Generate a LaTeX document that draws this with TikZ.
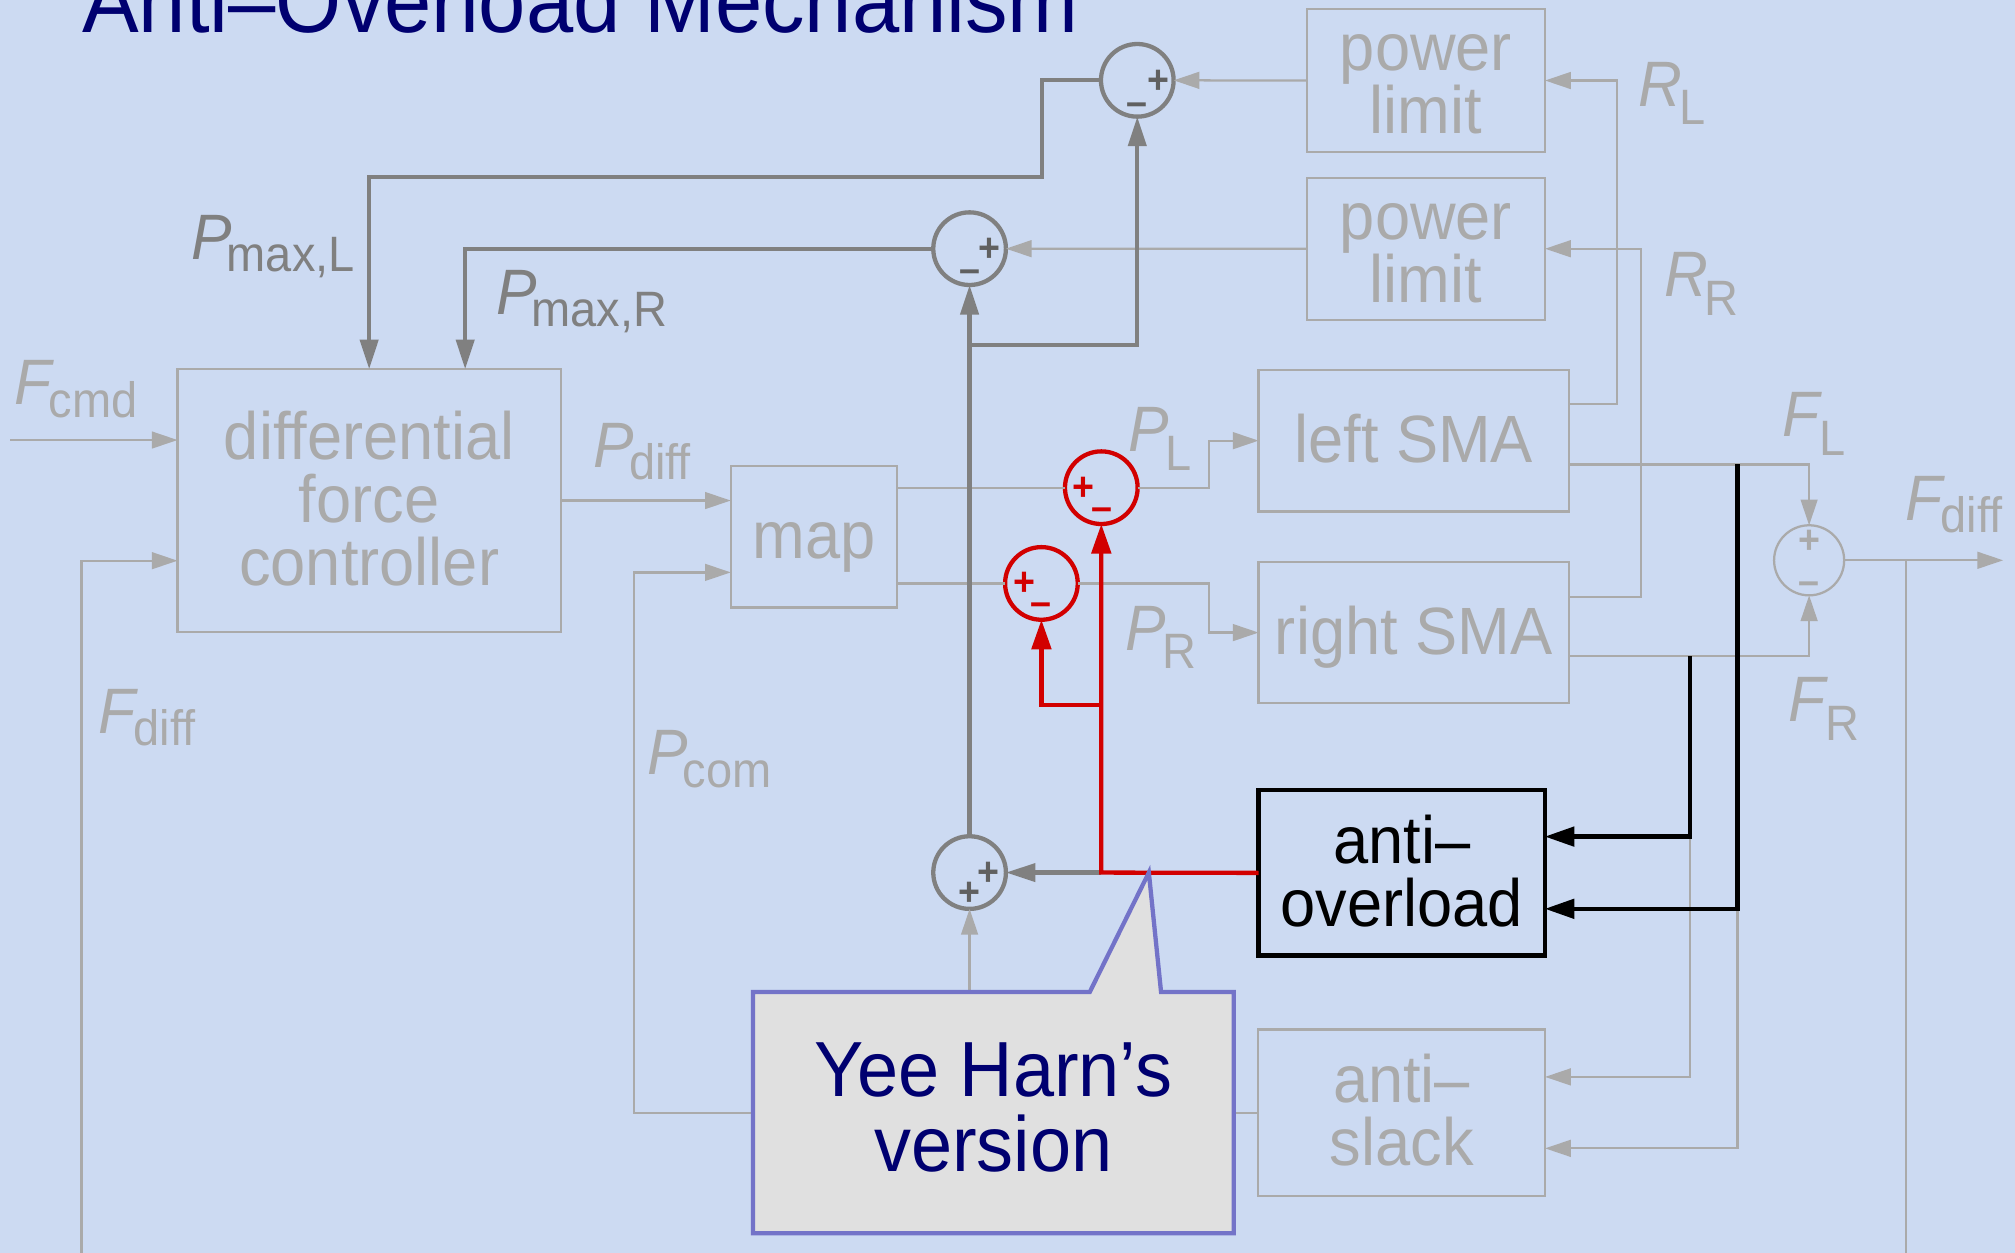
\documentclass[tikz,border=0pt]{standalone}
\usepackage{fontspec}
\setmainfont{Liberation Sans}[FakeStretch=0.945]
\usetikzlibrary{arrows.meta,calc}
\definecolor{bg}{RGB}{204,218,242}
\definecolor{lg}{RGB}{170,170,170}
\definecolor{dg}{RGB}{128,128,128}
\definecolor{sg}{RGB}{96,96,96}
\definecolor{rd}{RGB}{210,0,0}
\definecolor{nv}{RGB}{0,0,112}
\definecolor{cb}{RGB}{115,115,200}
\definecolor{cf}{RGB}{224,224,224}
\newcommand\st{\rule[-0.11cm]{0pt}{0.56cm}}
\newcommand\boxfont{\fontsize{14.8}{13.94}\selectfont\lineskiplimit=-100pt\relax}
\newcommand\calfont{\fontsize{17.3}{16.6}\selectfont\lineskiplimit=-100pt\relax}
\newcommand\labfont{\fontsize{14.2}{14.2}\selectfont}
\newcommand\lsub[2]{\textit{#1}\kern-0.08em\raisebox{-0.19em}{\fontsize{11}{11}\selectfont #2}}
\newcommand\usub[2]{\textit{#1}\kern-0.05em\raisebox{-0.29em}{\fontsize{11}{11}\selectfont #2}}
\begin{document}
\begin{tikzpicture}[x=0.01cm,y=-0.01cm,
  every node/.style={inner sep=0pt,outer sep=0pt},
  tbox/.style={draw=lg,line width=0.5pt,text=lg,font=\boxfont,align=center},
  thn/.style={draw=lg,line width=0.5pt},
  thk/.style={draw=dg,line width=0.95pt},
  redline/.style={draw=rd,line width=0.95pt},
  blkline/.style={draw=black,line width=0.95pt},
  tla/.style={-{Triangle[length=0.2cm,width=0.13cm]}},
  tka/.style={-{Triangle[length=0.23cm,width=0.14cm]}},
  bka/.style={-{Triangle[length=0.23cm,width=0.15cm]}},
  sumd/.style={circle,draw=dg,line width=0.95pt,minimum size=0.565cm},
  sumr/.style={circle,draw=rd,line width=0.95pt,minimum size=0.565cm},
  suml/.style={circle,draw=lg,line width=0.5pt,minimum size=0.545cm},
  sgn/.style={font=\fontsize{8.8}{8.8}\selectfont\bfseries},
  lab/.style={anchor=base west,font=\labfont,text=lg}]
\clip (0,0) rectangle (1568,975);
\fill[bg] (0,0) rectangle (1568,975);
\node[anchor=base west,font=\fontsize{19.9}{19.9}\selectfont,text=nv] (title) at (64,25.4) {Anti–Overload Mechanism};

% boxes
\node[tbox,minimum width=2.98cm,minimum height=2.043cm] (dfc) at (287.25,389.5) {\st differential\\\st force\\\st controller};
\node[tbox,minimum width=1.292cm,minimum height=1.1cm] (map) at (633.3,417.65) {\st map};
\node[tbox,minimum width=1.852cm,minimum height=1.108cm] (pl1) at (1109.65,62.65) {\st power\\\st limit};
\node[tbox,minimum width=1.852cm,minimum height=1.106cm] (pl2) at (1109.65,193.55) {\st power\\\st limit};
\node[tbox,minimum width=2.413cm,minimum height=1.103cm] (lsma) at (1100.1,342.9) {\st left SMA};
\node[tbox,minimum width=2.413cm,minimum height=1.098cm] (rsma) at (1100.1,492.25) {\st right SMA};
\node[tbox,draw=black,text=black,line width=0.95pt,minimum width=2.227cm,minimum height=1.285cm] (ao) at (1090.75,679.25) {\st anti–\\\st overload};
\node[tbox,minimum width=2.231cm,minimum height=1.295cm] (as) at (1090.7,865.8) {\st anti–\\\st slack};

% summing junctions
\node[sumd] (s1) at (885,62.5) {};
\node[sumd] (s2) at (754.5,193.5) {};
\node[sumd] (s3) at (754.5,679) {};
\node[sumr] (r1) at (857,379.5) {};
\node[sumr] (r2) at (810.4,454) {};
\node[suml] (fs) at (1407.8,436) {};
\node[sgn,text=sg] (s1p) at (901.4,63.6) {+};
\node[sgn,text=sg] (s1m) at (885,85) {–};
\node[sgn,text=sg] (s2p) at (770.2,194.2) {+};
\node[sgn,text=sg] (s2m) at (754.5,214.6) {–};
\node[sgn,text=sg] (s3p) at (769.5,680) {+};
\node[sgn,text=sg] (s3b) at (754.5,695.6) {+};
\node[sgn,text=rd] (r1p) at (843,380.5) {+};
\node[sgn,text=rd] (r1m) at (857.3,399.8) {–};
\node[sgn,text=rd] (r2p) at (797,454.5) {+};
\node[sgn,text=rd] (r2m) at (810.4,474.4) {–};
\node[sgn,text=lg] (fsp) at (1407.8,422) {+};
\node[sgn,text=lg] (fsm) at (1407.8,457.8) {–};

% labels
\node[lab] (lfcmd) at (11,315) {\lsub{F}{cmd}};
\node[lab,text=dg] (lpml) at (149,202) {\lsub{P}{max,L}};
\node[lab,text=dg] (lpmr) at (386,244.4) {\lsub{P}{max,R}};
\node[lab] (lpdiff) at (462,363.7) {\lsub{P}{diff}};
\node[lab] (lpl) at (878,351.5) {\usub{P}{L}};
\node[lab] (lpr) at (876,505.8) {\usub{P}{R}};
\node[lab] (lrl) at (1275,82.5) {\usub{R}{L}};
\node[lab] (lrr) at (1295,230.9) {\usub{R}{R}};
\node[lab] (lfl) at (1387,339.8) {\usub{F}{L}};
\node[lab] (lfr) at (1392,561.6) {\usub{F}{R}};
\node[lab] (lfd2) at (1483,404.7) {\lsub{F}{diff}};
\node[lab] (lfd1) at (77,570.7) {\lsub{F}{diff}};
\node[lab] (lpcom) at (504,603) {\lsub{P}{com}};

% thin light grey connectors
\coordinate (fin) at (8,342.4);
\draw[thn,tla] (fin) -- (dfc.west |- fin);
\coordinate (fbL) at (63.4,990);
\coordinate (fbLt) at (63.4,436.3);
\draw[thn,tla] (fbL) -- (fbLt) -- (dfc.west |- fbLt);
\draw[thn,tla] (dfc.east) -- (map.west |- dfc.east);
\coordinate (pc1) at (493.5,865.8);
\coordinate (pc2) at (493.5,445.4);
\draw[thn,tla] (as.west) -- (pc1) -- (pc2) -- (map.west |- pc2);
\draw[thn,tla] (s3.south |- as.west) -- (s3.south);
\draw[thn] (map.east |- r1.west) -- (r1.west);
\coordinate (pl) at (940.8,379.5);
\draw[thn,tla] (r1.east) -- (pl) |- (lsma.west);
\draw[thn] (map.east |- r2.west) -- (r2.west);
\coordinate (pr) at (940.8,454);
\draw[thn,tla] (r2.east) -- (pr) |- (rsma.west);
\draw[thn,tla] (pl1.west) -- (s1.east);
\draw[thn,tla] (pl2.west) -- (s2.east);
\coordinate (rl) at (1258.2,314.4);
\draw[thn,tla] (lsma.east |- rl) -- (rl) |- (pl1.east);
\coordinate (rr) at (1276.9,464.3);
\draw[thn,tla] (rsma.east |- rr) -- (rr) |- (pl2.east);
\coordinate (fl) at (1407.8,361.4);
\draw[thn,tla] (lsma.east |- fl) -| (fs.north);
\coordinate (fr) at (1407.8,510.5);
\draw[thn,tla] (rsma.east |- fr) -| (fs.south);
\coordinate (fo) at (1558.8,436);
\draw[thn,tla] (fs.east) -- (fo);
\coordinate (fbR) at (1483,436);
\coordinate (fbRb) at (1483,990);
\draw[thn] (fbR) -- (fbRb);
\coordinate (b1) at (1315,510.5);
\coordinate (b1d) at (1315,651);
\coordinate (b2) at (1352,361.4);
\coordinate (b2d) at (1352,707.2);
\coordinate (a1) at (1315,838);
\coordinate (a2) at (1352,893.6);
\draw[thn,tla] (b1d) -- (a1) -- (as.east |- a1);
\draw[thn,tla] (b2d) -- (a2) -- (as.east |- a2);

% thick dark grey connectors
\coordinate (k1) at (810.6,137.5);
\draw[thk,tka] (s1.west) -| (k1) -| (dfc.north);
\coordinate (k2) at (362,193.5);
\draw[thk,tka] (s2.west) -- (k2) -- (k2 |- dfc.north);
\draw[thk,tka] (s3.north) -- (s2.south);
\coordinate (k3) at (754.5,268.5);
\draw[thk,tka] (k3) -| (s1.south);
\coordinate (j) at (857,679);
\draw[thk,tka] (j) -- (s3.east);

% red
\draw[redline,bka] (ao.west) -- (j) -- (r1.south);
\coordinate (jr) at (857,548.7);
\draw[redline,bka] (jr) -| (r2.south);

% black
\draw[blkline,bka] (b1) -- (b1d) -- (ao.east |- b1d);
\draw[blkline,bka] (b2) -- (b2d) -- (ao.east |- b2d);

% callout
\draw[draw=cb,fill=cf,line width=0.95pt] (586,772) -- (848,772) -- (894,679) -- (903.5,772) -- (960,772) -- (960,959.6) -- (586,959.6) -- cycle;
\node[font=\calfont,text=nv,align=center] (yh) at (773,865.8) {\st Yee Harn’s\\\st version};
\end{tikzpicture}
\end{document}
